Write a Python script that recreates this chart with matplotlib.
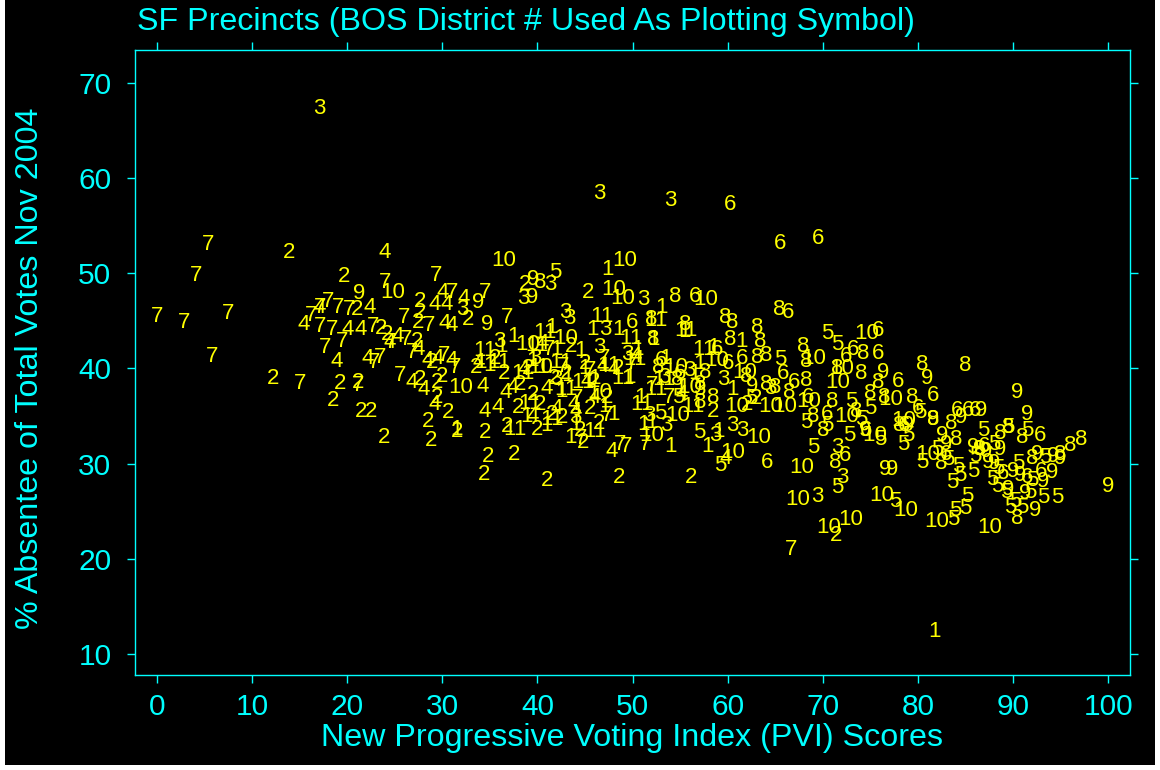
import matplotlib
matplotlib.use('Agg')
import matplotlib.pyplot as plt
from matplotlib.patches import Rectangle

# District 7
pvi_7 = [0, 2.8, 5.4, 4.1, 7.5, 5.8, 15, 17.7, 17.1, 17.1, 18.4, 20.2, 22.7, 16.2, 21.1, 24.0, 29.3, 31.0, 34.5, 36.8,
         26.8, 25.6, 31.3, 30.2, 22.8, 24.6, 26.2, 19.5, 23.5, 18.0, 28.6, 42.7, 48.7, 51.3, 47.3, 53.8, 44.6, 66.7, 45.5, 50.0,
         26.0, 19.0, 49.3, 52.0, 44.2, 41.2, 47.0]
abs_7 = [45.5, 44.8, 53.0, 49.8, 45.8, 41.3, 38.4, 42.2, 46.4, 44.4, 44.1, 46.2, 44.4, 45.6, 38.2, 49.0, 49.8, 48.0, 48.0, 45.4,
         41.7, 39.3, 40.1, 41.4, 40.6, 42.7, 43.0, 42.8, 41.2, 47.0, 44.5, 40.2, 32.0, 32.0, 35.1, 36.9, 32.6, 21.0, 39.8, 40.5,
         45.4, 46.4, 31.8, 38.2, 36.8, 42.0, 41.0]

# District 4
pvi_4 = [23.9, 15.4, 18.9, 20.0, 22.4, 22.2, 29.2, 30.0, 32.2, 26.8, 28.0, 29.2, 34.2, 35.8, 36.7, 37.4, 30.5, 31.0, 24.5, 27.5,
         28.5, 31.0, 34.5, 39.5, 41.0, 42.0, 44.0, 48.0, 46.0, 47.8, 59.8, 29.5, 30.2, 17.1, 21.4, 25.3, 33.8, 38.6, 43.8, 40.6,
         46.9, 50.3, 55.2, 45.2]
abs_4 = [52.2, 44.6, 40.7, 44.1, 46.4, 41.1, 46.7, 48.0, 47.4, 38.5, 37.8, 36.2, 38.1, 35.9, 37.5, 38.0, 46.7, 44.5, 42.7, 42.0,
         40.8, 40.8, 35.5, 35.0, 37.9, 35.8, 35.5, 39.9, 37.0, 31.3, 30.5, 41.1, 44.7, 46.4, 44.1, 43.4, 40.6, 39.9, 36.2, 42.6,
         40.2, 41.3, 37.3, 38.6]

# District 2
pvi_2 = [13.9, 12.2, 19.7, 18.5, 21.1, 21.5, 22.5, 23.9, 28.8, 31.6, 34.4, 34.8, 41.0, 48.6, 56.2, 71.4, 27.3, 27.7, 28.9, 29.5,
         29.5, 30.6, 28.5, 34.5, 36.8, 38.0, 38.2, 33.6, 38.7, 45.3, 27.7, 27.7, 32.7, 27.4, 21.0, 23.6, 39.5, 40.3, 41.5, 44.5,
         45.5, 46.0, 44.8, 37.5, 36.5, 39.0, 43.0, 45.0, 48.5, 58.5, 43.5, 63.0, 62.0, 46.5, 30.0, 24.2, 19.2, 35.5, 42.6, 40.0,
         41.8, 47.3]
abs_2 = [52.2, 39.0, 49.7, 36.6, 38.5, 35.5, 35.5, 32.7, 32.4, 33.4, 28.9, 30.7, 28.2, 28.5, 28.5, 22.4, 42.8, 38.8, 40.6, 38.5,
         37.0, 35.4, 34.4, 33.3, 33.9, 35.9, 38.3, 40.1, 48.8, 48.0, 47.0, 45.9, 45.1, 44.8, 46.2, 44.2, 37.3, 36.2, 35.2, 33.5,
         35.8, 38.6, 32.2, 31.0, 39.5, 40.0, 39.5, 40.5, 40.0, 35.5, 42.3, 36.8, 36.2, 34.2, 39.2, 43.6, 38.4, 41.0, 34.8, 33.6,
         38.9, 36.9]

# District 1
pvi_1 = [81.7, 31.5, 45.8, 47.4, 44.0, 41.0, 39.5, 42.0, 46.0, 48.5, 50.5, 52.2, 53.5, 55.0, 57.9, 41.5, 43.5, 47.0, 49.7, 52.0,
         54.0, 56.5, 58.5, 60.5, 51.1, 38.8, 36.2, 35.0, 40.5, 42.5, 45.0, 48.0, 53.0, 55.5, 59.0, 61.5, 57.0, 34.0, 37.5, 44.5,
         43.2, 50.8]
abs_1 = [12.4, 33.6, 44.1, 50.4, 34.1, 34.0, 40.8, 42.0, 39.0, 44.1, 42.0, 43.0, 41.1, 38.0, 31.8, 44.3, 32.8, 36.0, 39.1, 34.3,
         31.8, 39.5, 42.2, 37.8, 34.1, 35.0, 42.3, 40.3, 40.1, 37.6, 40.0, 35.2, 46.4, 43.9, 33.4, 42.8, 40.5, 40.6, 43.4, 41.9,
         39.3, 37.0]

# District 11
pvi_11 = [34.5, 36.0, 40.8, 42.5, 46.8, 52.5, 55.6, 57.5, 49.0, 51.0, 53.3, 39.2, 41.5, 44.8, 47.5, 50.2, 52.5, 43.0, 46.0, 38.5,
          56.3, 49.8, 40.0, 37.6]
abs_11 = [41.9, 40.6, 43.8, 40.6, 45.5, 45.0, 44.0, 42.0, 38.9, 36.2, 38.8, 36.3, 34.6, 38.5, 40.3, 40.9, 37.8, 37.8, 33.4, 39.5,
          36.0, 43.1, 42.4, 33.6]

# District 3
pvi_3 = [17.1, 46.5, 54.0, 41.3, 38.5, 32.1, 42.9, 43.4, 47.1, 51.1, 53.3, 59.5, 64.5, 71.5, 69.4, 51.8, 53.5, 58.7, 60.5, 57.0,
         44.0, 39.8, 46.5, 42.0, 56.0, 61.5, 72.0, 49.5, 36.0]
abs_3 = [67.3, 58.4, 57.7, 48.8, 47.4, 46.2, 45.9, 45.3, 44.1, 47.2, 39.1, 38.8, 37.9, 31.7, 26.5, 35.1, 34.0, 33.0, 34.0, 37.8,
         34.8, 41.0, 42.2, 38.8, 39.8, 33.5, 28.5, 41.5, 42.8]

# District 6
pvi_6 = [60.3, 65.5, 69.5, 66.3, 56.6, 50.0, 58.9, 73.2, 65.8, 75.8, 75.8, 77.9, 81.6, 84.1, 85.3, 86.0, 92.8, 64.1, 60.0, 72.3,
         91.5, 55.0, 68.5, 70.5, 74.5, 78.5, 83.0, 89.0, 53.0, 61.5, 67.0, 72.5, 80.0, 87.0, 93.0]
abs_6 = [57.2, 53.1, 53.7, 45.9, 47.6, 44.8, 42.0, 42.0, 39.5, 44.0, 41.6, 38.6, 37.2, 35.6, 35.6, 35.6, 33.0, 30.1, 40.5, 30.9,
         28.5, 39.5, 37.0, 35.2, 33.5, 34.0, 31.0, 29.0, 40.8, 41.0, 38.5, 41.3, 35.8, 31.8, 29.2]

# District 8
pvi_8 = [40.3, 54.5, 55.5, 65.4, 52.0, 59.7, 60.5, 63.1, 52.2, 60.3, 63.4, 63.1, 64.1, 67.9, 71.5, 52.7, 57.6, 68.3, 54.7, 57.1,
         64.1, 68.3, 57.1, 74.2, 75.8, 80.5, 85.0, 75.0, 79.4, 81.6, 88.6, 97.2, 96.0, 90.4, 71.3, 71.0, 66.5, 62.0, 70.0, 73.5,
         76.5, 78.0, 84.0, 86.5, 89.5, 92.0, 95.0, 82.5, 69.0, 65.0, 58.5, 74.0, 83.5, 91.0]
abs_8 = [49.0, 47.6, 44.6, 46.2, 45.1, 45.4, 44.8, 44.3, 43.0, 43.0, 42.8, 41.2, 41.4, 42.3, 40.0, 40.1, 39.6, 40.7, 38.8, 38.3,
         38.3, 38.7, 36.4, 41.6, 38.5, 40.4, 40.3, 37.4, 36.9, 34.6, 33.2, 32.5, 31.9, 24.2, 30.1, 36.5, 37.5, 39.2, 33.5, 35.5,
         37.0, 34.0, 32.5, 31.5, 33.8, 30.5, 31.0, 30.0, 35.0, 38.0, 37.0, 39.5, 34.2, 32.8]

# District 10
pvi_10 = [36.4, 49.2, 57.7, 24.8, 48.0, 49.0, 58.8, 54.5, 61.8, 71.6, 74.6, 77.1, 63.3, 54.7, 60.5, 67.8, 67.4, 70.6, 72.9, 78.7,
          76.2, 82.0, 87.6, 31.9, 40.3, 64.5, 66.0, 68.5, 75.5, 78.5, 72.0, 69.0, 81.0, 61.0, 39.0, 43.0, 46.5, 52.0, 56.0, 72.5]
abs_10 = [51.4, 51.4, 47.2, 48.0, 48.3, 47.4, 40.8, 40.1, 39.6, 38.5, 43.7, 36.7, 32.8, 35.1, 31.2, 29.6, 26.2, 23.3, 24.1, 25.1,
          26.7, 23.9, 23.3, 38.0, 40.1, 36.0, 36.0, 36.5, 33.0, 34.5, 40.0, 41.0, 31.0, 36.0, 42.5, 43.2, 37.5, 33.0, 38.0, 35.0]

# District 5
pvi_5 = [41.9, 70.5, 71.5, 65.5, 54.8, 52.9, 62.5, 68.3, 70.5, 80.2, 86.9, 91.5, 59.2, 69.0, 71.5, 80.5, 83.2, 84.2, 83.6, 85.2,
         87.8, 88.3, 89.3, 90.2, 89.7, 91.0, 93.2, 94.6, 89.5, 93.4, 77.6, 83.7, 83.9, 85.0, 57.0, 72.8, 74.0, 76.0, 78.5, 82.0,
         84.5, 86.0, 88.5, 90.5, 92.0, 75.0, 73.0, 79.0, 85.8, 88.0, 91.8]
abs_5 = [50.1, 43.7, 42.5, 40.9, 37.0, 35.3, 36.8, 34.3, 34.0, 35.4, 33.5, 33.5, 29.8, 31.7, 27.5, 30.1, 30.4, 29.7, 28.0, 26.5,
         28.3, 27.6, 27.0, 26.0, 25.4, 25.4, 26.4, 26.4, 33.8, 30.6, 26.0, 24.1, 25.1, 25.3, 33.3, 33.0, 34.6, 32.5, 32.0, 31.5,
         28.8, 30.8, 29.5, 30.0, 28.2, 35.8, 36.5, 33.0, 29.2, 32.0, 27.0]

# District 9
pvi_9 = [21.3, 39.5, 39.4, 33.8, 34.7, 76.3, 81.0, 90.4, 91.5, 86.6, 100.0, 81.6, 76.6, 77.3, 85.8, 86.4, 87.2, 87.4, 88.0, 90.0,
         90.8, 91.3, 92.3, 93.2, 94.1, 94.2, 62.6, 79.0, 83.0, 88.6, 92.5, 74.5, 82.5, 89.5, 95.0, 84.5]
abs_9 = [47.9, 49.3, 47.5, 46.9, 44.6, 39.6, 39.0, 37.5, 35.2, 35.6, 27.6, 34.6, 29.4, 29.4, 31.7, 31.5, 31.3, 30.1, 30.0, 29.2,
         28.8, 26.9, 25.1, 28.1, 29.1, 30.7, 38.1, 34.0, 32.0, 31.5, 31.0, 33.5, 33.0, 27.3, 30.5, 34.8]

districts = [(7, pvi_7, abs_7), (4, pvi_4, abs_4), (2, pvi_2, abs_2), (1, pvi_1, abs_1),
             (11, pvi_11, abs_11), (3, pvi_3, abs_3), (6, pvi_6, abs_6), (8, pvi_8, abs_8),
             (10, pvi_10, abs_10), (5, pvi_5, abs_5), (9, pvi_9, abs_9)]

x_ticks = list(range(0, 101, 10))
y_ticks = list(range(10, 71, 10))

CYAN = '#00FFFF'
YELLOW = '#FFFF00'
FONT = 'Liberation Sans'

fig = plt.figure(figsize=(11.6, 7.7), dpi=100, facecolor='white')
# black panel with a thin white margin on left, right and bottom
fig.patches.append(Rectangle((5 / 1160, 5 / 770), 1150 / 1160, 765 / 770,
                             transform=fig.transFigure, facecolor='black', edgecolor='none', zorder=-10))

ax = fig.add_axes([135 / 1160, 95 / 770, 995 / 1160, 625 / 770])
ax.set_facecolor('black')
ax.set_xlim(-2.31, 102.3)
ax.set_ylim(7.79, 73.47)

for d, xs, ys in districts:
    for x, y in zip(xs, ys):
        ax.text(x, y, str(d), color=YELLOW, fontsize=16, family=FONT, ha='center', va='center')

for s in ax.spines.values():
    s.set_color(CYAN)
    s.set_linewidth(1)

ax.set_xticks(x_ticks)
ax.set_yticks(y_ticks)
ax.tick_params(which='both', direction='out', length=6, width=1, color=CYAN, labelcolor=CYAN,
               labelsize=21.5, top=True, right=True)
ax.tick_params(axis='x', pad=7)
ax.tick_params(axis='y', pad=11)
for lbl in ax.get_xticklabels() + ax.get_yticklabels():
    lbl.set_family(FONT)

fig.text(137 / 1160, 1 - 22 / 770, 'SF Precincts (BOS District # Used As Plotting Symbol)',
         color=CYAN, fontsize=23.2, family=FONT, ha='left', va='center')
fig.text(632 / 1160, 1 - 738 / 770, 'New Progressive Voting Index (PVI) Scores',
         color=CYAN, fontsize=23.2, family=FONT, ha='center', va='center')
fig.text(30 / 1160, 1 - 368 / 770, '% Absentee of Total Votes Nov 2004',
         color=CYAN, fontsize=23.2, family=FONT, ha='center', va='center', rotation=90)

fig.savefig('out.png', dpi=100, facecolor=fig.get_facecolor())
